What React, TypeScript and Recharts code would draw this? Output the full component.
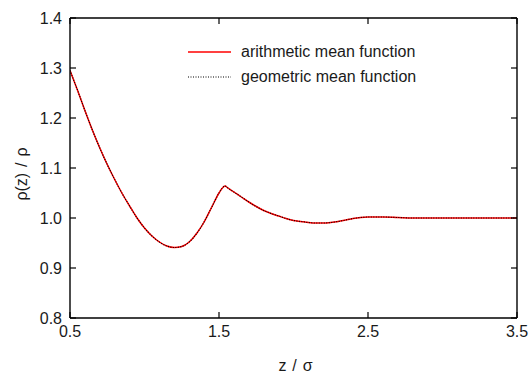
import React from 'react';
import { LineChart, Line, XAxis, YAxis, Legend, Label } from 'recharts';

const zValues = [
  0.5, 0.55, 0.6, 0.65, 0.7, 0.75, 0.8, 0.85, 0.9, 0.95,
  1.0, 1.05, 1.1, 1.15, 1.2, 1.25, 1.3, 1.35, 1.4, 1.45,
  1.5, 1.52, 1.54, 1.56, 1.6, 1.65, 1.7, 1.75, 1.8, 1.85, 1.9, 1.95,
  2.0, 2.05, 2.1, 2.15, 2.2, 2.25, 2.3, 2.35, 2.4, 2.45,
  2.5, 2.6, 2.7, 2.8, 2.9, 3.0, 3.1, 3.2, 3.3, 3.4, 3.5,
];

const arithmeticMean = [
  1.295, 1.256, 1.215, 1.176, 1.14, 1.107, 1.077, 1.049, 1.024, 1.0,
  0.98, 0.964, 0.952, 0.944, 0.941, 0.943, 0.952, 0.969, 0.992, 1.021,
  1.05, 1.059, 1.064, 1.06, 1.052, 1.042, 1.032, 1.023, 1.015, 1.009, 1.004, 0.999,
  0.995, 0.993, 0.991, 0.99, 0.99, 0.991, 0.993, 0.996, 0.999, 1.001,
  1.002, 1.002, 1.001, 1.0, 1.0, 1.0, 1.0, 1.0, 1.0, 1.0, 1.0,
];

const geometricMean = [
  1.295, 1.256, 1.215, 1.176, 1.14, 1.107, 1.077, 1.049, 1.024, 1.0,
  0.98, 0.964, 0.952, 0.944, 0.941, 0.943, 0.952, 0.969, 0.992, 1.021,
  1.05, 1.059, 1.064, 1.06, 1.052, 1.042, 1.032, 1.023, 1.015, 1.009, 1.004, 0.999,
  0.995, 0.993, 0.991, 0.99, 0.99, 0.991, 0.993, 0.996, 0.999, 1.001,
  1.002, 1.002, 1.001, 1.0, 1.0, 1.0, 1.0, 1.0, 1.0, 1.0, 1.0,
];

const xTicks = [0.5, 1.5, 2.5, 3.5];
const yTicks = [0.8, 0.9, 1.0, 1.1, 1.2, 1.3, 1.4];

const data = zValues.map((z, i) => ({ z, arith: arithmeticMean[i], geo: geometricMean[i] }));

const FONT = '"Liberation Sans", Arial, sans-serif';
const INK = '#1a1a1a';

const LeftTick = ({ x, y, payload }: any) => (
  <g>
    <line x1={x} x2={x + 6} y1={y} y2={y} stroke="#000" strokeWidth={1.2} />
    <text x={x - 8} y={y} dy="0.36em" textAnchor="end" fontSize={16} fill={INK} fontFamily={FONT}>
      {payload.value.toFixed(1)}
    </text>
  </g>
);

const RightTick = ({ x, y }: any) => (
  <line x1={x - 6} x2={x} y1={y} y2={y} stroke="#000" strokeWidth={1.2} />
);

const BottomTick = ({ x, y, payload }: any) => (
  <g>
    <line x1={x} x2={x} y1={y - 6} y2={y} stroke="#000" strokeWidth={1.2} />
    <text x={x} y={y + 19} textAnchor="middle" fontSize={16} fill={INK} fontFamily={FONT}>
      {payload.value.toFixed(1)}
    </text>
  </g>
);

const TopTick = ({ x, y }: any) => (
  <line x1={x} x2={x} y1={y} y2={y + 6} stroke="#000" strokeWidth={1.2} />
);

const KeyBox = () => (
  <div style={{ position: 'relative', width: 529, height: 0, fontFamily: FONT, fontSize: 16, color: INK }}>
    <svg width={60} height={40} style={{ position: 'absolute', left: 185, top: 45 }}>
      <line x1={3} x2={46} y1={7} y2={7} stroke="#f00" strokeWidth={1.3} />
      <line x1={3} x2={46} y1={32} y2={32} stroke="#000" strokeWidth={1.2} strokeDasharray="1 1.5" />
    </svg>
    <div style={{ position: 'absolute', left: 241, top: 42, whiteSpace: 'nowrap', lineHeight: '20px' }}>arithmetic mean function</div>
    <div style={{ position: 'absolute', left: 241, top: 67, whiteSpace: 'nowrap', lineHeight: '20px' }}>geometric mean function</div>
  </div>
);

export default function App() {
  return (
    <div style={{ position: 'absolute', left: 0, top: 0, background: '#fff' }}>
      <LineChart width={529} height={375} data={data} margin={{ top: 0, right: 0, bottom: 0, left: 0 }}>
        <XAxis
          xAxisId="b"
          dataKey="z"
          type="number"
          domain={[0.5, 3.5]}
          ticks={xTicks}
          allowDataOverflow
          height={57}
          tickSize={0}
          tickMargin={0}
          tickLine={false}
          axisLine={{ stroke: '#000', strokeWidth: 1.4 }}
          tick={(p: any) => <BottomTick {...p} />}
        >
          <Label
            content={({ viewBox }: any) => (
              <text
                x={viewBox.x + viewBox.width / 2 + 2}
                y={viewBox.y + 53}
                textAnchor="middle"
                fontSize={16}
                fill={INK}
                fontFamily={FONT}
                wordSpacing={1.5}
              >
                z / σ
              </text>
            )}
          />
        </XAxis>
        <XAxis
          xAxisId="t"
          orientation="top"
          dataKey="z"
          type="number"
          domain={[0.5, 3.5]}
          ticks={xTicks}
          allowDataOverflow
          height={18}
          tickSize={0}
          tickMargin={0}
          tickLine={false}
          axisLine={{ stroke: '#000', strokeWidth: 1.4 }}
          tick={(p: any) => <TopTick {...p} />}
        />
        <YAxis
          yAxisId="l"
          type="number"
          domain={[0.8, 1.4]}
          ticks={yTicks}
          allowDataOverflow
          width={70}
          tickSize={0}
          tickMargin={0}
          tickLine={false}
          axisLine={{ stroke: '#000', strokeWidth: 1.4 }}
          tick={(p: any) => <LeftTick {...p} />}
        >
          <Label
            content={({ viewBox }: any) => {
              const cx = 21;
              const cy = viewBox.y + viewBox.height / 2 + 6;
              return (
                <text
                  x={cx}
                  y={cy}
                  transform={`rotate(-90 ${cx} ${cy})`}
                  textAnchor="middle"
                  dominantBaseline="central"
                  fontSize={16}
                  fill={INK}
                  fontFamily={FONT}
                  wordSpacing={1.5}
                >
                  ρ(z) / ρ
                </text>
              );
            }}
          />
        </YAxis>
        <YAxis
          yAxisId="r"
          orientation="right"
          type="number"
          domain={[0.8, 1.4]}
          ticks={yTicks}
          allowDataOverflow
          width={12}
          tickSize={0}
          tickMargin={0}
          tickLine={false}
          axisLine={{ stroke: '#000', strokeWidth: 1.4 }}
          tick={(p: any) => <RightTick {...p} />}
        />
        <Legend content={() => <KeyBox />} wrapperStyle={{ left: 0, top: 0, width: 529 }} />
        <Line
          xAxisId="b"
          yAxisId="l"
          dataKey="arith"
          type="monotone"
          stroke="#f00"
          strokeWidth={1.5}
          dot={false}
          isAnimationActive={false}
        />
        <Line
          xAxisId="b"
          yAxisId="l"
          dataKey="geo"
          type="monotone"
          stroke="#000"
          strokeWidth={1.1}
          strokeDasharray="1 1.5"
          dot={false}
          isAnimationActive={false}
        />
      </LineChart>
    </div>
  );
}
